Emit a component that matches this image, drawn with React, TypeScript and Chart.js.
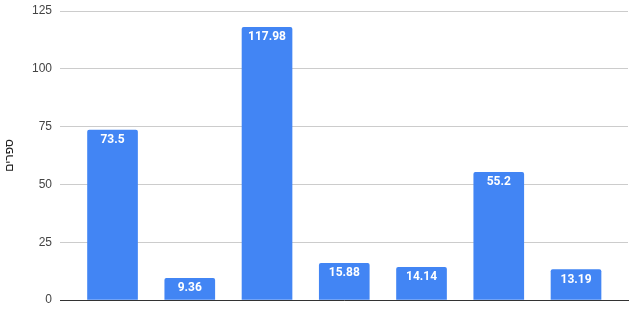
import React, { useEffect, useRef } from "react";
import { Chart, registerables } from "chart.js";

Chart.register(...registerables);

const categories = ["1", "2", "3", "4", "5", "6", "7"];
const values = [73.5, 9.36, 117.98, 15.88, 14.14, 55.2, 13.19];
const yTicks = [0, 25, 50, 75, 100, 125];
const yTitle = "ספרים";

const valueLabels = {
  id: "valueLabels",
  afterDatasetsDraw(chart: any) {
    const ctx = chart.ctx;
    const meta = chart.getDatasetMeta(0);
    ctx.save();
    ctx.fillStyle = "#ffffff";
    ctx.font = "bold 12px Roboto, Arial, sans-serif";
    ctx.textAlign = "center";
    ctx.textBaseline = "middle";
    meta.data.forEach((bar: any, i: number) => {
      ctx.fillText(String(values[i]), bar.x, bar.y + 10);
    });
    ctx.restore();
  },
};

export default function App() {
  const ref = useRef<HTMLCanvasElement>(null);
  useEffect(() => {
    document.body.style.margin = "0";
    const chart = new Chart(ref.current!, {
      type: "bar",
      data: {
        labels: categories,
        datasets: [
          {
            data: values.map((v, i) => ({ x: i, y: v })),
            backgroundColor: "#4285F4",
            barThickness: 50,
            borderRadius: { topLeft: 2, topRight: 2, bottomLeft: 0, bottomRight: 0 },
            borderSkipped: "bottom",
          },
        ],
      },
      options: {
        animation: false,
        responsive: false,
        maintainAspectRatio: false,
        layout: { padding: { top: 11, right: 3, bottom: 0, left: 0 } },
        plugins: { legend: { display: false }, tooltip: { enabled: false } },
        scales: {
          x: {
            type: "linear",
            offset: false,
            min: -0.68,
            max: 6.673,
            ticks: { display: false },
            grid: { display: false },
            border: { display: true, color: "#333333", width: 1 },
            afterFit(scale: any) {
              scale.height = 14;
              scale.paddingLeft = 0;
              scale.paddingRight = 0;
            },
          },
          y: {
            min: 0,
            max: 125,
            afterBuildTicks(scale: any) {
              scale.ticks = yTicks.map((v) => ({ value: v }));
            },
            ticks: {
              color: "#444444",
              font: { size: 12, family: "Arial, 'Liberation Sans', sans-serif" },
              padding: 8,
            },
            grid: { color: "#cccccc", drawTicks: false },
            border: { display: false },
            title: {
              display: true,
              text: yTitle,
              color: "#222222",
              font: { size: 12, family: "Arial, 'Liberation Sans', sans-serif" },
              padding: { top: 2, bottom: 2 },
            },
            afterFit(scale: any) {
              scale.width = 60;
              scale.paddingTop = 0;
              scale.paddingBottom = 0;
            },
          },
        },
      },
      plugins: [valueLabels],
    } as any);
    return () => chart.destroy();
  }, []);
  return <canvas ref={ref} width={631} height={314} style={{ display: "block" }} />;
}
